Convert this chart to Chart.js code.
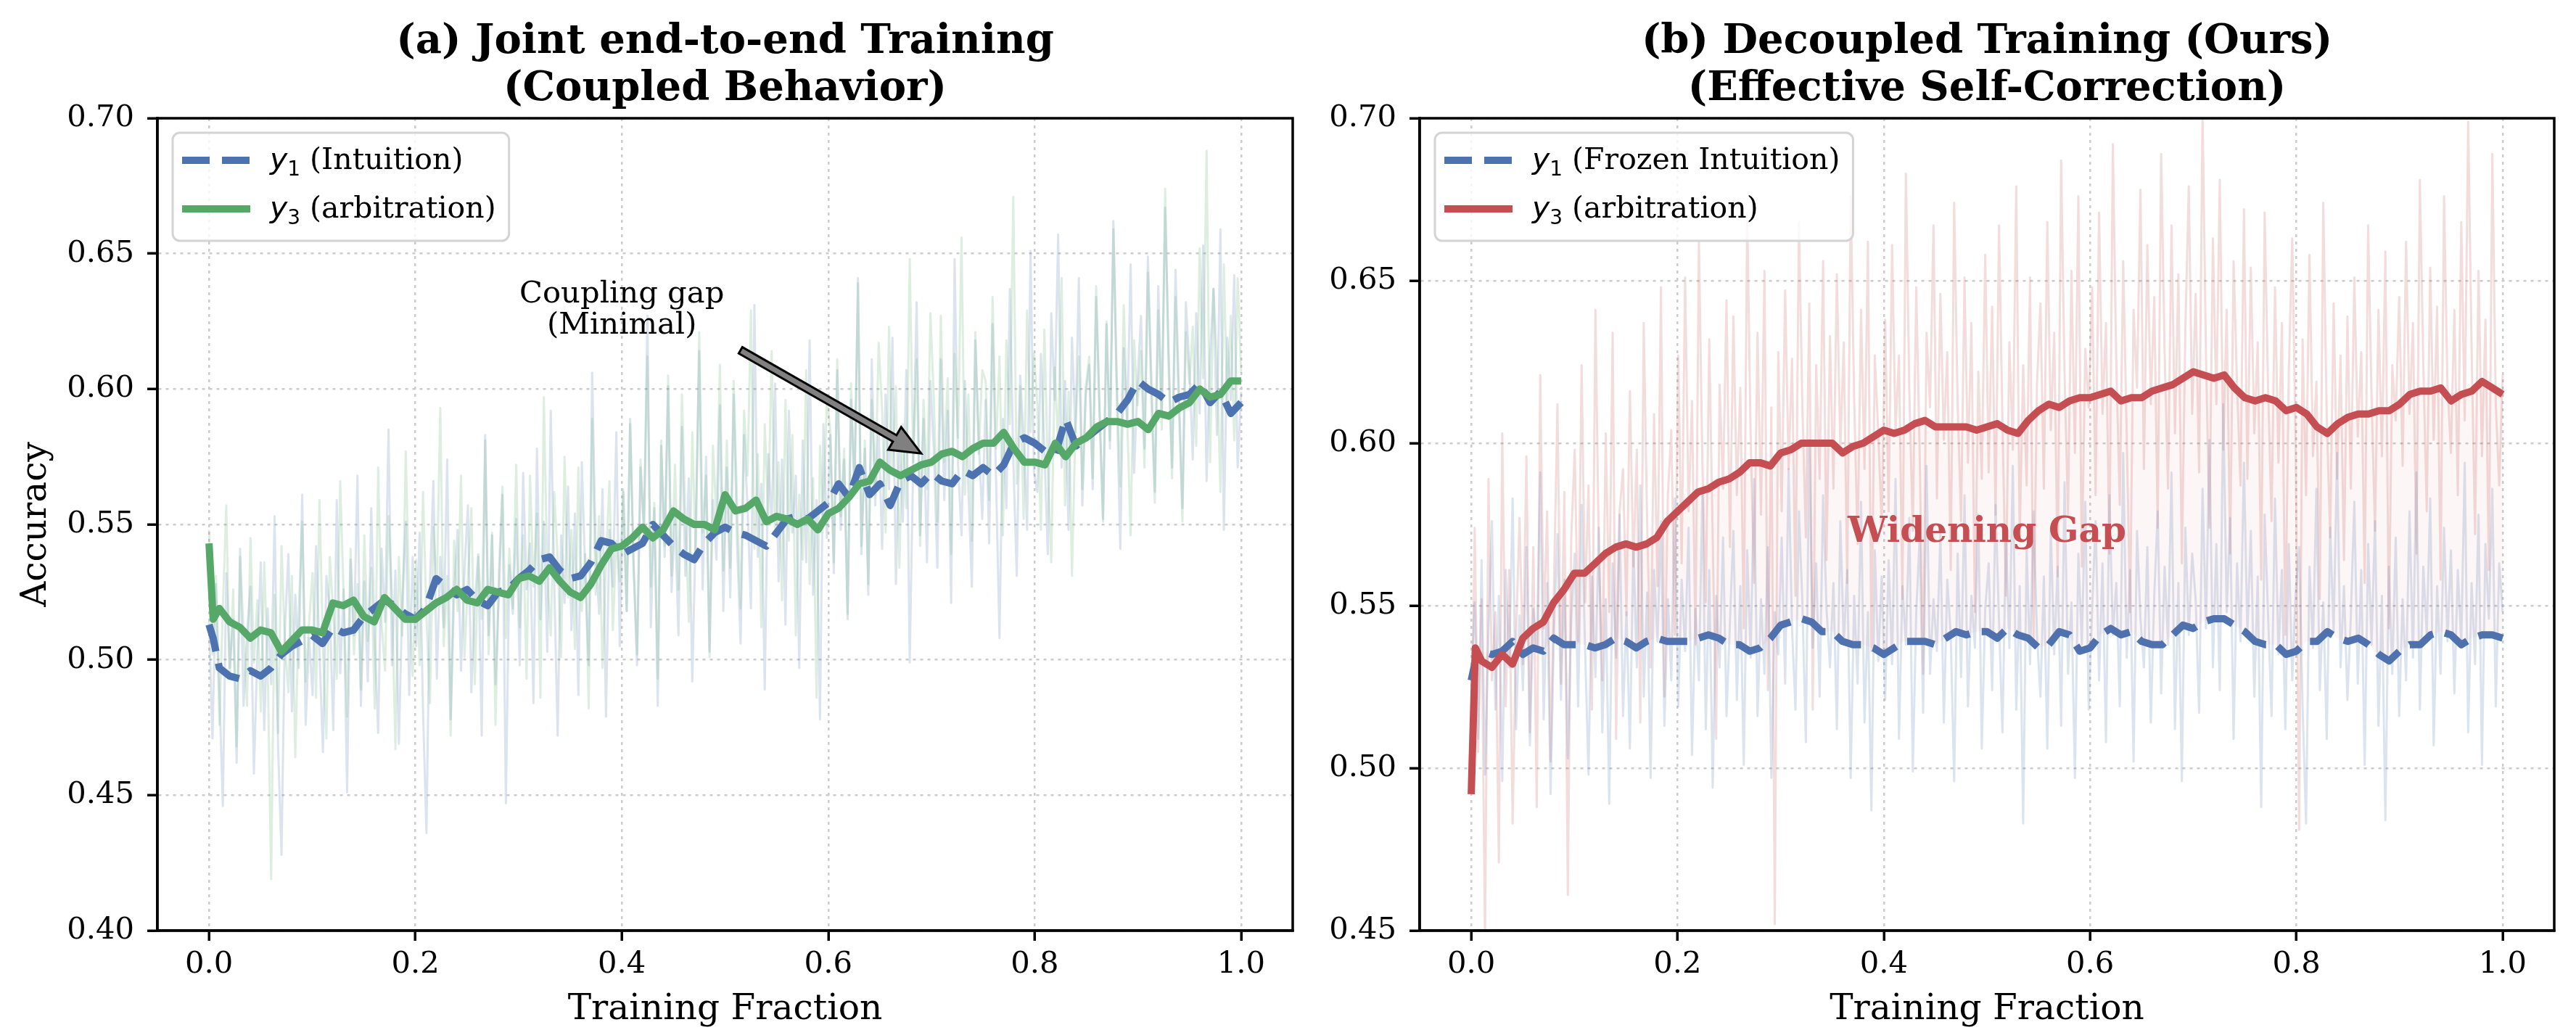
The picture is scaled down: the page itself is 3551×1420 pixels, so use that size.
<!DOCTYPE html>
<html>
<head>
<meta charset="utf-8">
<script src="https://cdn.jsdelivr.net/npm/chart.js@4.4.1/dist/chart.umd.min.js"></script>
<style>
html, body { margin: 0; padding: 0; background: #fff; }
#wrap { position: relative; width: 3551px; height: 1420px; overflow: hidden; }
canvas { position: absolute; top: 0; }
</style>
</head>
<body>
<div id="wrap">
  <canvas id="left" width="1790" height="1420" style="left:0"></canvas>
  <canvas id="right" width="1761" height="1420" style="left:1790px"></canvas>
</div>
<script>
const SERIF = '"DejaVu Serif", serif';
const SANS = '"DejaVu Sans", sans-serif';
const BLUE = '#4c72b0', GREEN = '#55a868', RED = '#c44e52';

// tick labels
const fracTicks = [0.0, 0.2, 0.4, 0.6, 0.8, 1.0];
const accTicksA = [0.40, 0.45, 0.50, 0.55, 0.60, 0.65, 0.70];
const accTicksB = [0.45, 0.50, 0.55, 0.60, 0.65, 0.70];

// x grid of the smoothed curves (training fraction)
const smoothFrac = [0, 0.004].concat(Array.from({length: 100}, (_, i) => (i + 1) / 100));

// (a) joint training, smoothed
const smoothA_y1 = [0.513, 0.508,
  0.497, 0.494, 0.493, 0.496, 0.494, 0.497, 0.502, 0.505, 0.507, 0.509,
  0.506, 0.512, 0.510, 0.511, 0.516, 0.519, 0.522, 0.520, 0.517, 0.515,
  0.519, 0.530, 0.527, 0.524, 0.526, 0.522, 0.520, 0.525, 0.526, 0.530,
  0.533, 0.537, 0.538, 0.533, 0.530, 0.531, 0.536, 0.544, 0.543, 0.539,
  0.541, 0.543, 0.550, 0.546, 0.542, 0.539, 0.537, 0.543, 0.547, 0.549,
  0.547, 0.546, 0.544, 0.542, 0.547, 0.552, 0.553, 0.552, 0.555, 0.558,
  0.565, 0.560, 0.571, 0.561, 0.565, 0.557, 0.566, 0.568, 0.565, 0.569,
  0.566, 0.565, 0.570, 0.568, 0.571, 0.568, 0.572, 0.580, 0.582, 0.580,
  0.577, 0.576, 0.589, 0.579, 0.582, 0.585, 0.588, 0.591, 0.596, 0.603,
  0.600, 0.598, 0.595, 0.597, 0.598, 0.602, 0.595, 0.599, 0.591, 0.595];
const smoothA_y3 = [0.543, 0.515,
  0.519, 0.514, 0.512, 0.508, 0.511, 0.510, 0.503, 0.507, 0.511, 0.511,
  0.510, 0.521, 0.520, 0.522, 0.516, 0.514, 0.523, 0.519, 0.515, 0.515,
  0.518, 0.521, 0.523, 0.526, 0.522, 0.521, 0.526, 0.525, 0.524, 0.530,
  0.531, 0.529, 0.534, 0.529, 0.525, 0.523, 0.528, 0.535, 0.541, 0.542,
  0.545, 0.549, 0.545, 0.548, 0.555, 0.552, 0.550, 0.550, 0.548, 0.561,
  0.555, 0.556, 0.559, 0.551, 0.553, 0.552, 0.550, 0.552, 0.548, 0.554,
  0.556, 0.560, 0.565, 0.566, 0.573, 0.570, 0.568, 0.570, 0.572, 0.573,
  0.576, 0.577, 0.575, 0.578, 0.580, 0.580, 0.584, 0.578, 0.573, 0.573,
  0.572, 0.580, 0.575, 0.580, 0.582, 0.586, 0.588, 0.588, 0.587, 0.588,
  0.585, 0.591, 0.590, 0.593, 0.595, 0.600, 0.597, 0.598, 0.603, 0.603];

// (a) joint training, raw per-step accuracy
const rawA_y1 = [
  0.514, 0.471, 0.528, 0.489, 0.446, 0.532, 0.497, 0.515, 0.462, 0.541, 0.483, 0.509, 0.527, 0.458, 0.503,
  0.536, 0.474, 0.519, 0.491, 0.553, 0.468, 0.428, 0.512, 0.539, 0.481, 0.524, 0.497, 0.561, 0.476, 0.508,
  0.487, 0.542, 0.503, 0.466, 0.531, 0.518, 0.474, 0.559, 0.495, 0.526, 0.451, 0.537, 0.509, 0.568, 0.483,
  0.529, 0.492, 0.556, 0.507, 0.473, 0.541, 0.514, 0.585, 0.498, 0.533, 0.469, 0.522, 0.551, 0.487, 0.538,
  0.505, 0.547, 0.481, 0.436, 0.529, 0.566, 0.493, 0.538, 0.512, 0.574, 0.478, 0.524, 0.548, 0.496, 0.533,
  0.557, 0.488, 0.521, 0.539, 0.472, 0.583, 0.509, 0.546, 0.491, 0.526, 0.561, 0.447, 0.535, 0.517, 0.552,
  0.498, 0.569, 0.526, 0.543, 0.484, 0.578, 0.515, 0.551, 0.503, 0.592, 0.529, 0.472, 0.546, 0.521, 0.564,
  0.511, 0.554, 0.487, 0.573, 0.532, 0.498, 0.606, 0.541, 0.517, 0.563, 0.479, 0.548, 0.527, 0.584, 0.505,
  0.562, 0.518, 0.589, 0.534, 0.498, 0.571, 0.547, 0.627, 0.512, 0.556, 0.483, 0.579, 0.538, 0.601, 0.525,
  0.553, 0.509, 0.586, 0.531, 0.567, 0.492, 0.548, 0.614, 0.526, 0.575, 0.503, 0.559, 0.537, 0.594, 0.518,
  0.571, 0.523, 0.598, 0.542, 0.506, 0.583, 0.557, 0.519, 0.631, 0.538, 0.565, 0.489, 0.576, 0.551, 0.602,
  0.529, 0.574, 0.513, 0.592, 0.547, 0.568, 0.497, 0.581, 0.536, 0.618, 0.524, 0.559, 0.478, 0.587, 0.545,
  0.583, 0.532, 0.607, 0.548, 0.574, 0.515, 0.596, 0.562, 0.641, 0.539, 0.578, 0.524, 0.611, 0.557, 0.586,
  0.541, 0.598, 0.563, 0.619, 0.528, 0.584, 0.551, 0.607, 0.499, 0.573, 0.632, 0.546, 0.589, 0.536, 0.603,
  0.577, 0.534, 0.611, 0.559, 0.592, 0.521, 0.648, 0.572, 0.546, 0.603, 0.563, 0.527, 0.618, 0.581, 0.552,
  0.596, 0.543, 0.624, 0.567, 0.508, 0.589, 0.556, 0.637, 0.574, 0.531, 0.605, 0.582, 0.548, 0.651, 0.569,
  0.562, 0.613, 0.578, 0.539, 0.628, 0.596, 0.657, 0.571, 0.603, 0.548, 0.619, 0.584, 0.641, 0.557, 0.598,
  0.609, 0.563, 0.634, 0.591, 0.552, 0.624, 0.578, 0.662, 0.597, 0.541, 0.615, 0.586, 0.646, 0.569, 0.603,
  0.627, 0.578, 0.649, 0.604, 0.562, 0.638, 0.591, 0.667, 0.613, 0.571, 0.644, 0.598, 0.556, 0.632, 0.609,
  0.574, 0.628, 0.591, 0.653, 0.566, 0.612, 0.637, 0.583, 0.659, 0.548, 0.619, 0.596, 0.642, 0.571, 0.599];
const rawA_y3 = [
  0.548, 0.502, 0.531, 0.476, 0.519, 0.557, 0.493, 0.526, 0.468, 0.538, 0.511, 0.483, 0.545, 0.499, 0.522,
  0.481, 0.536, 0.497, 0.419, 0.524, 0.473, 0.542, 0.505, 0.488, 0.531, 0.464, 0.519, 0.551, 0.492, 0.514,
  0.532, 0.486, 0.559, 0.505, 0.471, 0.538, 0.517, 0.493, 0.566, 0.524, 0.479, 0.541, 0.502, 0.528, 0.489,
  0.546, 0.507, 0.534, 0.482, 0.571, 0.513, 0.496, 0.553, 0.524, 0.467, 0.538, 0.509, 0.577, 0.521, 0.494,
  0.537, 0.498, 0.562, 0.516, 0.484, 0.549, 0.527, 0.593, 0.505, 0.531, 0.472, 0.544, 0.518, 0.568, 0.501,
  0.529, 0.556, 0.491, 0.538, 0.515, 0.581, 0.502, 0.547, 0.476, 0.533, 0.564, 0.508, 0.541, 0.519, 0.572,
  0.512, 0.546, 0.493, 0.568, 0.527, 0.554, 0.486, 0.597, 0.531, 0.509, 0.562, 0.538, 0.501, 0.575, 0.523,
  0.548, 0.504, 0.571, 0.518, 0.539, 0.482, 0.589, 0.524, 0.553, 0.497, 0.536, 0.566, 0.511, 0.544, 0.529,
  0.563, 0.518, 0.587, 0.536, 0.502, 0.574, 0.549, 0.612, 0.527, 0.558, 0.493, 0.581, 0.542, 0.605, 0.531,
  0.572, 0.526, 0.598, 0.553, 0.514, 0.584, 0.539, 0.621, 0.547, 0.568, 0.501, 0.579, 0.552, 0.609, 0.533,
  0.581, 0.534, 0.603, 0.557, 0.519, 0.592, 0.568, 0.629, 0.541, 0.576, 0.512, 0.587, 0.553, 0.614, 0.546,
  0.573, 0.522, 0.596, 0.544, 0.583, 0.509, 0.561, 0.537, 0.607, 0.528, 0.567, 0.486, 0.579, 0.552, 0.598,
  0.584, 0.536, 0.611, 0.553, 0.578, 0.517, 0.602, 0.565, 0.639, 0.542, 0.581, 0.528, 0.596, 0.561, 0.617,
  0.592, 0.547, 0.623, 0.568, 0.601, 0.534, 0.587, 0.556, 0.648, 0.573, 0.611, 0.542, 0.596, 0.563, 0.628,
  0.596, 0.551, 0.627, 0.573, 0.604, 0.539, 0.613, 0.582, 0.656, 0.561, 0.598, 0.544, 0.621, 0.576, 0.607,
  0.603, 0.559, 0.634, 0.578, 0.612, 0.546, 0.618, 0.587, 0.671, 0.565, 0.601, 0.552, 0.629, 0.584, 0.613,
  0.594, 0.548, 0.622, 0.571, 0.536, 0.608, 0.579, 0.641, 0.557, 0.599, 0.531, 0.586, 0.612, 0.563, 0.601,
  0.612, 0.567, 0.638, 0.592, 0.551, 0.625, 0.581, 0.659, 0.603, 0.564, 0.631, 0.589, 0.546, 0.618, 0.594,
  0.614, 0.571, 0.643, 0.596, 0.558, 0.629, 0.585, 0.674, 0.608, 0.567, 0.634, 0.592, 0.551, 0.621, 0.602,
  0.623, 0.579, 0.652, 0.604, 0.688, 0.573, 0.637, 0.611, 0.562, 0.646, 0.593, 0.627, 0.581, 0.641, 0.606];

// (b) decoupled training, smoothed
const smoothB_y1 = [0.527, 0.533,
  0.536, 0.535, 0.536, 0.539, 0.535, 0.537, 0.536, 0.540, 0.538, 0.538,
  0.538, 0.537, 0.538, 0.540, 0.539, 0.537, 0.539, 0.540, 0.539, 0.539,
  0.539, 0.540, 0.541, 0.540, 0.538, 0.538, 0.536, 0.537, 0.540, 0.544,
  0.545, 0.546, 0.545, 0.542, 0.542, 0.539, 0.538, 0.538, 0.537, 0.535,
  0.537, 0.539, 0.539, 0.539, 0.538, 0.540, 0.542, 0.541, 0.542, 0.542,
  0.540, 0.543, 0.541, 0.540, 0.537, 0.538, 0.542, 0.541, 0.536, 0.537,
  0.541, 0.543, 0.541, 0.542, 0.539, 0.538, 0.538, 0.541, 0.544, 0.543,
  0.545, 0.546, 0.546, 0.544, 0.542, 0.539, 0.538, 0.538, 0.535, 0.536,
  0.539, 0.539, 0.542, 0.540, 0.539, 0.540, 0.538, 0.535, 0.533, 0.536,
  0.538, 0.538, 0.541, 0.542, 0.541, 0.538, 0.540, 0.541, 0.541, 0.540];
const smoothB_y3 = [0.492, 0.537,
  0.533, 0.531, 0.535, 0.532, 0.540, 0.543, 0.545, 0.551, 0.555, 0.560,
  0.560, 0.563, 0.566, 0.568, 0.569, 0.568, 0.569, 0.571, 0.576, 0.579,
  0.582, 0.585, 0.586, 0.588, 0.589, 0.591, 0.594, 0.594, 0.593, 0.597,
  0.598, 0.600, 0.600, 0.600, 0.600, 0.597, 0.599, 0.600, 0.602, 0.604,
  0.603, 0.604, 0.606, 0.607, 0.605, 0.605, 0.605, 0.605, 0.604, 0.605,
  0.606, 0.604, 0.603, 0.607, 0.610, 0.612, 0.611, 0.613, 0.614, 0.614,
  0.615, 0.616, 0.613, 0.614, 0.614, 0.616, 0.617, 0.618, 0.620, 0.622,
  0.621, 0.620, 0.621, 0.617, 0.614, 0.613, 0.614, 0.613, 0.610, 0.611,
  0.609, 0.605, 0.603, 0.606, 0.608, 0.609, 0.609, 0.610, 0.610, 0.612,
  0.615, 0.616, 0.616, 0.617, 0.613, 0.615, 0.616, 0.619, 0.617, 0.615];

// (b) decoupled training, raw per-step accuracy
const rawB_y1 = [
  0.527, 0.551, 0.509, 0.564, 0.498, 0.542, 0.576, 0.518, 0.553, 0.496, 0.561, 0.531, 0.583, 0.512, 0.547,
  0.524, 0.568, 0.507, 0.549, 0.536, 0.591, 0.515, 0.557, 0.492, 0.543, 0.572, 0.521, 0.558, 0.503, 0.546,
  0.566, 0.519, 0.581, 0.537, 0.498, 0.559, 0.528, 0.574, 0.511, 0.552, 0.489, 0.563, 0.534, 0.578, 0.516,
  0.548, 0.506, 0.569, 0.531, 0.587, 0.522, 0.554, 0.497, 0.561, 0.539, 0.576, 0.513, 0.552, 0.527, 0.583,
  0.519, 0.558, 0.536, 0.574, 0.504, 0.549, 0.527, 0.585, 0.512, 0.561, 0.494, 0.553, 0.531, 0.571, 0.516,
  0.545, 0.573, 0.521, 0.556, 0.501, 0.567, 0.534, 0.589, 0.516, 0.552, 0.529, 0.568, 0.497, 0.548, 0.535,
  0.571, 0.526, 0.592, 0.543, 0.518, 0.579, 0.551, 0.508, 0.601, 0.537, 0.563, 0.522, 0.584, 0.549, 0.531,
  0.557, 0.512, 0.576, 0.538, 0.561, 0.497, 0.553, 0.526, 0.582, 0.514, 0.548, 0.487, 0.567, 0.533, 0.559,
  0.521, 0.564, 0.532, 0.589, 0.509, 0.556, 0.538, 0.577, 0.499, 0.548, 0.571, 0.517, 0.593, 0.529, 0.552,
  0.536, 0.572, 0.514, 0.558, 0.541, 0.496, 0.566, 0.528, 0.584, 0.519, 0.553, 0.537, 0.578, 0.506, 0.549,
  0.563, 0.524, 0.581, 0.545, 0.511, 0.572, 0.537, 0.593, 0.518, 0.556, 0.483, 0.568, 0.532, 0.579, 0.541,
  0.522, 0.559, 0.506, 0.574, 0.535, 0.562, 0.513, 0.588, 0.529, 0.551, 0.497, 0.566, 0.538, 0.582, 0.518,
  0.549, 0.576, 0.527, 0.563, 0.508, 0.584, 0.541, 0.557, 0.519, 0.597, 0.534, 0.561, 0.502, 0.573, 0.546,
  0.531, 0.568, 0.514, 0.553, 0.579, 0.523, 0.562, 0.538, 0.591, 0.512, 0.557, 0.496, 0.574, 0.541, 0.566,
  0.552, 0.517, 0.586, 0.543, 0.601, 0.531, 0.569, 0.524, 0.612, 0.548, 0.577, 0.509, 0.563, 0.539, 0.594,
  0.541, 0.573, 0.522, 0.559, 0.488, 0.578, 0.547, 0.516, 0.583, 0.535, 0.561, 0.512, 0.569, 0.527, 0.554,
  0.568, 0.519, 0.483, 0.562, 0.537, 0.586, 0.524, 0.551, 0.509, 0.574, 0.542, 0.597, 0.531, 0.556, 0.521,
  0.547, 0.582, 0.526, 0.561, 0.501, 0.569, 0.538, 0.576, 0.513, 0.553, 0.484, 0.562, 0.529, 0.571, 0.516,
  0.552, 0.527, 0.579, 0.534, 0.591, 0.518, 0.562, 0.541, 0.583, 0.507, 0.556, 0.529, 0.574, 0.539, 0.567,
  0.523, 0.561, 0.538, 0.594, 0.511, 0.557, 0.532, 0.578, 0.501, 0.569, 0.546, 0.586, 0.519, 0.563, 0.548];
const rawB_y3 = [
  0.492, 0.574, 0.505, 0.552, 0.446, 0.589, 0.527, 0.548, 0.471, 0.603, 0.519, 0.561, 0.483, 0.541, 0.577,
  0.532, 0.596, 0.511, 0.568, 0.488, 0.621, 0.543, 0.579, 0.502, 0.557, 0.612, 0.526, 0.585, 0.461, 0.571,
  0.598, 0.539, 0.624, 0.551, 0.587, 0.518, 0.641, 0.566, 0.527, 0.603, 0.548, 0.634, 0.509, 0.579, 0.592,
  0.547, 0.616, 0.562, 0.598, 0.514, 0.637, 0.575, 0.531, 0.609, 0.556, 0.648, 0.522, 0.584, 0.604, 0.541,
  0.627, 0.563, 0.651, 0.579, 0.613, 0.538, 0.662, 0.594, 0.551, 0.632, 0.571, 0.509, 0.618, 0.586, 0.644,
  0.568, 0.639, 0.584, 0.617, 0.543, 0.671, 0.602, 0.557, 0.634, 0.578, 0.653, 0.524, 0.611, 0.452, 0.628,
  0.579, 0.647, 0.592, 0.626, 0.553, 0.668, 0.611, 0.571, 0.643, 0.518, 0.624, 0.589, 0.656, 0.564, 0.633,
  0.586, 0.652, 0.598, 0.631, 0.557, 0.676, 0.614, 0.569, 0.641, 0.592, 0.662, 0.536, 0.627, 0.603, 0.574,
  0.638, 0.579, 0.661, 0.604, 0.627, 0.552, 0.683, 0.616, 0.573, 0.648, 0.597, 0.529, 0.634, 0.611, 0.667,
  0.583, 0.646, 0.601, 0.628, 0.561, 0.674, 0.612, 0.576, 0.651, 0.594, 0.637, 0.548, 0.622, 0.589, 0.658,
  0.591, 0.642, 0.578, 0.667, 0.606, 0.553, 0.631, 0.598, 0.679, 0.571, 0.624, 0.587, 0.651, 0.539, 0.618,
  0.643, 0.586, 0.668, 0.604, 0.634, 0.559, 0.687, 0.621, 0.578, 0.653, 0.597, 0.676, 0.562, 0.629, 0.611,
  0.648, 0.584, 0.671, 0.609, 0.637, 0.566, 0.692, 0.624, 0.581, 0.656, 0.603, 0.548, 0.641, 0.617, 0.678,
  0.592, 0.661, 0.612, 0.645, 0.574, 0.689, 0.628, 0.586, 0.667, 0.603, 0.652, 0.563, 0.634, 0.679, 0.609,
  0.646, 0.591, 0.702, 0.627, 0.574, 0.663, 0.612, 0.681, 0.598, 0.641, 0.566, 0.656, 0.618, 0.587, 0.672,
  0.589, 0.654, 0.603, 0.631, 0.558, 0.671, 0.617, 0.576, 0.648, 0.594, 0.637, 0.541, 0.622, 0.663, 0.598,
  0.481, 0.632, 0.584, 0.658, 0.596, 0.619, 0.552, 0.674, 0.608, 0.571, 0.643, 0.589, 0.627, 0.564, 0.639,
  0.586, 0.651, 0.602, 0.628, 0.557, 0.667, 0.614, 0.573, 0.641, 0.596, 0.659, 0.543, 0.624, 0.607, 0.645,
  0.593, 0.662, 0.609, 0.637, 0.566, 0.681, 0.624, 0.579, 0.654, 0.601, 0.642, 0.558, 0.676, 0.618, 0.597,
  0.641, 0.584, 0.668, 0.607, 0.699, 0.629, 0.572, 0.653, 0.596, 0.638, 0.561, 0.689, 0.612, 0.587, 0.621];

function pts(ys, xs) {
  return ys.map((y, i) => ({x: xs ? xs[i] : i / (ys.length - 1), y: y}));
}
function rgba(hex, a) {
  const n = parseInt(hex.slice(1), 16);
  return `rgba(${n >> 16},${(n >> 8) & 255},${n & 255},${a})`;
}
function rawSet(ys, color) {
  return {data: pts(ys), borderColor: rgba(color, 0.2), borderWidth: 3,
    pointRadius: 0, borderJoinStyle: 'round', fill: false};
}
function smoothSet(ys, color, dashed) {
  return {data: pts(ys, smoothFrac), borderColor: color, borderWidth: 10,
    borderDash: dashed ? [38, 17] : [], borderCapStyle: 'butt', borderJoinStyle: 'round',
    pointRadius: 0, fill: false};
}

// frame, titles, axis labels, legend and notes
const decor = {
  id: 'decor',
  afterDraw(chart) {
    const o = chart.options.plugins.decor;
    const {ctx, chartArea: a} = chart;
    const xs = chart.scales.x, ys = chart.scales.y;
    ctx.save();
    ctx.strokeStyle = '#000';
    ctx.lineWidth = 3.5;
    ctx.strokeRect(a.left, a.top, a.right - a.left, a.bottom - a.top);

    const cx = (a.left + a.right) / 2;
    ctx.fillStyle = '#000';
    ctx.textAlign = 'center';
    ctx.textBaseline = 'alphabetic';
    ctx.font = `bold 56px ${SERIF}`;
    ctx.fillText(o.title[0], cx, 73);
    ctx.fillText(o.title[1], cx, 138);

    ctx.font = `48.6px ${SERIF}`;
    ctx.fillText('Training Fraction', cx, 1405);
    if (o.yLabel) {
      ctx.save();
      ctx.translate(63, (a.top + a.bottom) / 2);
      ctx.rotate(-Math.PI / 2);
      ctx.fillText(o.yLabel, 0, 0);
      ctx.restore();
    }

    // notes
    (o.notes || []).forEach(n => {
      ctx.font = n.font;
      ctx.fillStyle = n.color;
      ctx.textAlign = 'center';
      ctx.fillText(n.text, xs.getPixelForValue(n.x), ys.getPixelForValue(n.y));
    });
    if (o.arrow) {
      const x0 = xs.getPixelForValue(o.arrow[0]), y0 = ys.getPixelForValue(o.arrow[1]);
      const x1 = xs.getPixelForValue(o.arrow[2]), y1 = ys.getPixelForValue(o.arrow[3]);
      const ang = Math.atan2(y1 - y0, x1 - x0), len = Math.hypot(x1 - x0, y1 - y0);
      const hl = 42, hw = 18, sw = 5;
      ctx.save();
      ctx.translate(x0, y0);
      ctx.rotate(ang);
      ctx.beginPath();
      ctx.moveTo(0, -sw); ctx.lineTo(len - hl, -sw); ctx.lineTo(len - hl, -hw);
      ctx.lineTo(len, 0); ctx.lineTo(len - hl, hw); ctx.lineTo(len - hl, sw);
      ctx.lineTo(0, sw); ctx.closePath();
      ctx.fillStyle = '#808080';
      ctx.fill();
      ctx.lineWidth = 3;
      ctx.strokeStyle = '#000';
      ctx.stroke();
      ctx.restore();
    }

    // legend
    const L = o.legend;
    const bx = a.left + 21, by = a.top + 20;
    let tw = 0;
    L.forEach(e => {
      ctx.font = `italic 41px ${SANS}`;
      let w = ctx.measureText('y').width;
      ctx.font = `28px ${SANS}`;
      w += ctx.measureText(e.sub).width;
      ctx.font = `41px ${SERIF}`;
      w += ctx.measureText(' ' + e.text).width;
      tw = Math.max(tw, w);
    });
    const bw = 134 + tw + 18, bh = 149;
    ctx.beginPath();
    ctx.roundRect(bx, by, bw, bh, 10);
    ctx.fillStyle = 'rgba(255,255,255,0.8)';
    ctx.fill();
    ctx.lineWidth = 3;
    ctx.strokeStyle = '#d4d4d4';
    ctx.stroke();
    L.forEach((e, i) => {
      const ds = chart.data.datasets[e.ds];
      const yy = by + 38 + i * 67;
      ctx.save();
      ctx.strokeStyle = ds.borderColor;
      ctx.lineWidth = ds.borderWidth;
      ctx.lineCap = 'butt';
      ctx.setLineDash(ds.borderDash || []);
      ctx.beginPath();
      ctx.moveTo(bx + 13, yy);
      ctx.lineTo(bx + 107, yy);
      ctx.stroke();
      ctx.restore();
      let tx = bx + 134;
      ctx.fillStyle = '#000';
      ctx.textAlign = 'left';
      ctx.textBaseline = 'alphabetic';
      const base = yy + 12;
      ctx.font = `italic 41px ${SANS}`;
      ctx.fillText('y', tx, base);
      tx += ctx.measureText('y').width;
      ctx.font = `28px ${SANS}`;
      ctx.fillText(e.sub, tx, base + 9);
      tx += ctx.measureText(e.sub).width;
      ctx.font = `41px ${SERIF}`;
      ctx.fillText(' ' + e.text, tx, base);
    });
    ctx.restore();
  }
};

function makeChart(id, o) {
  return new Chart(document.getElementById(id), {
    type: 'line',
    data: {datasets: o.datasets},
    options: {
      responsive: false,
      animation: false,
      devicePixelRatio: 1,
      events: [],
      layout: {padding: {top: 163, right: o.padRight, left: 0, bottom: 0}},
      plugins: {legend: {display: false}, tooltip: {enabled: false}, title: {display: false},
        decor: o.decor},
      scales: {
        x: {
          type: 'linear', min: -0.05, max: 1.05,
          afterBuildTicks: s => { s.ticks = fracTicks.map(v => ({value: v})); },
          afterFit: s => { s.height = 137; },
          ticks: {callback: v => v.toFixed(1), font: {family: SERIF, size: 41.7}, color: '#000',
            padding: 8, maxRotation: 0, autoSkip: false},
          grid: {color: '#cccccc', lineWidth: 2.5, tickLength: 14, tickColor: '#000', tickWidth: 3.5},
          border: {display: true, color: '#000', width: 3.5, dash: [4, 6]}
        },
        y: {
          type: 'linear', min: o.yTicks[0], max: o.yTicks[o.yTicks.length - 1],
          afterBuildTicks: s => { s.ticks = o.yTicks.map(v => ({value: v})); },
          afterFit: s => { s.width = o.yWidth; },
          ticks: {callback: v => v.toFixed(2), font: {family: SERIF, size: 41.7}, color: '#000',
            padding: 18, autoSkip: false},
          grid: {color: '#cccccc', lineWidth: 2.5, tickLength: 14, tickColor: '#000', tickWidth: 3.5},
          border: {display: true, color: '#000', width: 3.5, dash: [4, 6]}
        }
      }
    },
    plugins: [decor]
  });
}

// (a) Joint end-to-end training
makeChart('left', {
  yTicks: accTicksA, yWidth: 217, padRight: 8,
  datasets: [
    smoothSet(smoothA_y3, GREEN, false),
    smoothSet(smoothA_y1, BLUE, true),
    rawSet(rawA_y3, GREEN),
    rawSet(rawA_y1, BLUE)
  ],
  decor: {
    title: ['(a) Joint end-to-end Training', '(Coupled Behavior)'],
    yLabel: 'Accuracy',
    legend: [{ds: 1, sub: '1', text: '(Intuition)'}, {ds: 0, sub: '3', text: '(arbitration)'}],
    notes: [
      {text: 'Coupling gap', x: 0.40, y: 0.632, font: `41.7px ${SERIF}`, color: '#000'},
      {text: '(Minimal)', x: 0.40, y: 0.6205, font: `41.7px ${SERIF}`, color: '#000'}
    ],
    arrow: [0.515, 0.6143, 0.690, 0.5762]
  }
});

// (b) Decoupled training
const setsB = [
  smoothSet(smoothB_y3, RED, false),
  smoothSet(smoothB_y1, BLUE, true),
  rawSet(rawB_y1, BLUE),
  rawSet(rawB_y3, RED)
];
setsB[0].fill = {target: 1};
setsB[0].backgroundColor = rgba(RED, 0.05);
makeChart('right', {
  yTicks: accTicksB, yWidth: 167, padRight: 30,
  datasets: setsB,
  decor: {
    title: ['(b) Decoupled Training (Ours)', '(Effective Self-Correction)'],
    yLabel: null,
    legend: [{ds: 1, sub: '1', text: '(Frozen Intuition)'}, {ds: 0, sub: '3', text: '(arbitration)'}],
    notes: [
      {text: 'Widening Gap', x: 0.50, y: 0.5696, font: `bold 48.6px ${SERIF}`, color: RED}
    ]
  }
});
</script>
</body>
</html>
